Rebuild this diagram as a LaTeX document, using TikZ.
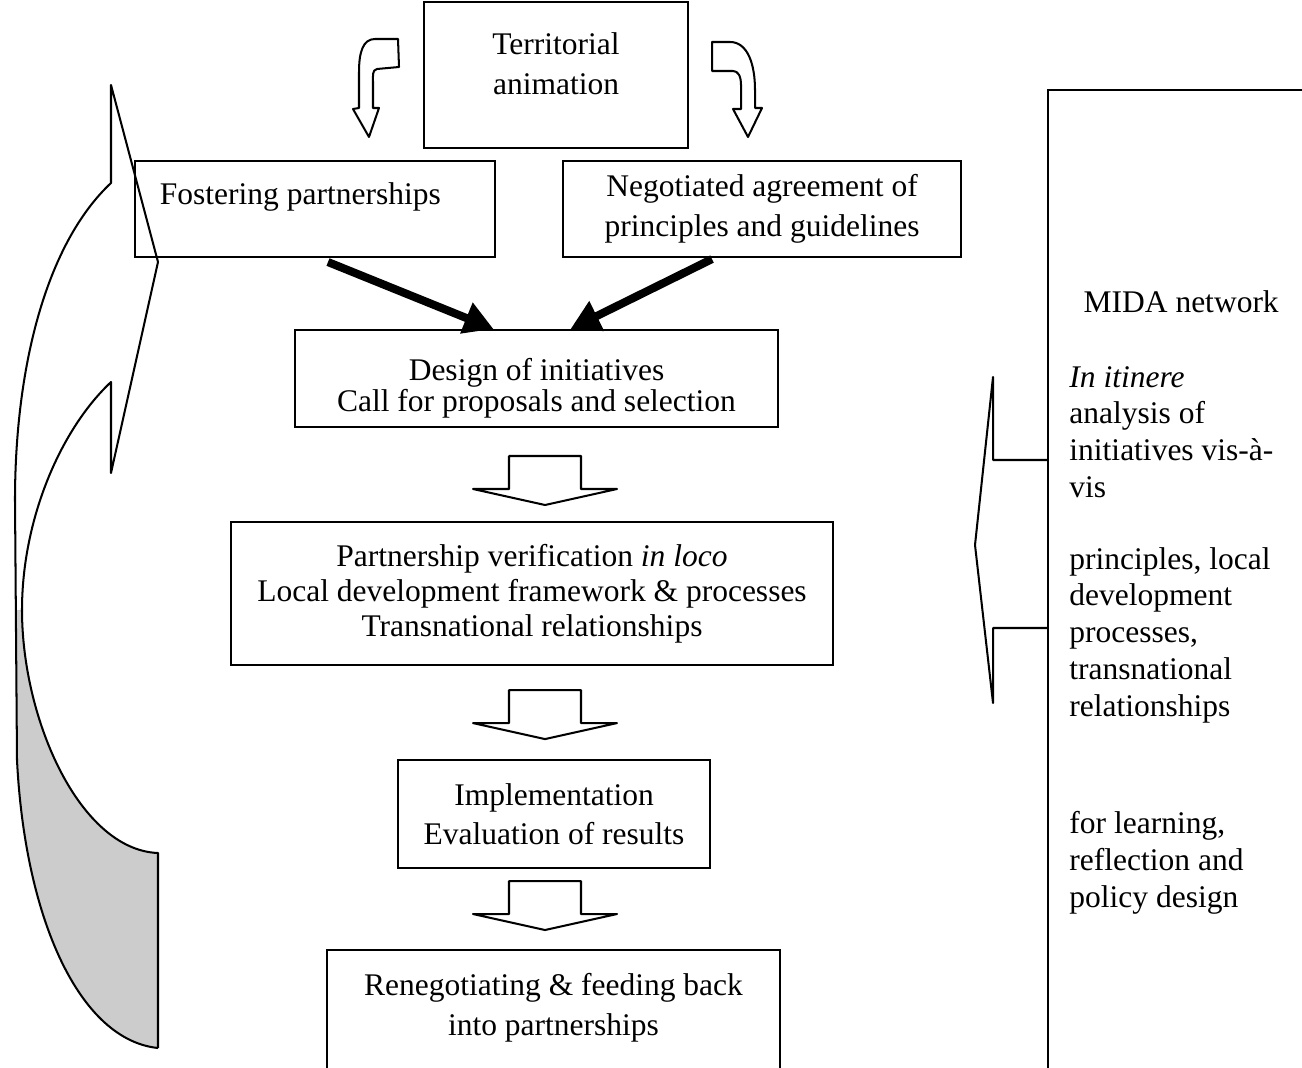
\documentclass[tikz,border=0pt]{standalone}
\usepackage{fontspec}
\setmainfont{Liberation Serif}
\usetikzlibrary{positioning, arrows.meta, calc}
\definecolor{mygray}{RGB}{204,204,204}

\begin{document}
\begin{tikzpicture}[x=0.4444pt, y=-0.4444pt,
  box/.style={draw, line width=0.9pt, align=center, inner sep=0pt, font=\fontsize{14}{17.5}\selectfont},
  outline/.style={line width=0.9pt, line join=round},
  fat/.style={line width=3.6pt, -{Triangle[length=13pt, width=14pt]}},
  hollowdown/.pic={\draw[outline, fill=white] (-36,0) -- (36,0) -- (36,33) -- (72,33) -- (0,49) -- (-72,33) -- (-36,33) -- cycle;}]
\useasboundingbox (0,0) rectangle (1302,1068);
\clip (0,0) rectangle (1302,1068);

% Flow boxes
\node[box, minimum width=117.3pt, minimum height=64.9pt, text depth=10pt] (anim) at (556,75) {Territorial\\animation};
\node[box, minimum width=160pt, minimum height=42.7pt, text depth=14pt] (foster) at (315,209) {Fostering partnerships\hspace*{13pt}};
\node[box, minimum width=176.9pt, minimum height=42.7pt] (nego) at (762,209) {Negotiated agreement of\\principles and guidelines};
\node[box, minimum width=214.7pt, minimum height=43.1pt, text height=32.5pt, font=\fontsize{14}{13.8}\selectfont] (design) at (536.5,378.5) {Design of initiatives\\Call for proposals and selection};
\node[box, minimum width=267.6pt, minimum height=63.6pt, font=\fontsize{14}{15.5}\selectfont] (verif) at (532,593.5) {Partnership verification \textit{in loco}\\Local development framework \& processes\\Transnational relationships};
\node[box, minimum width=138.7pt, minimum height=48pt] (impl) at (554,814) {Implementation\\Evaluation of results};
\node[box, minimum width=201.3pt, minimum height=62.2pt, text depth=14pt] (reneg) at (553.5,1020) {Renegotiating \& feeding back\\into partnerships};

% MIDA network box
\node[draw, line width=0.9pt, inner sep=0pt, minimum width=157pt, minimum height=494pt, anchor=north west] (midabox) at (1047,89) {};
\node[anchor=north west, align=left, inner sep=0pt, font=\fontsize{14}{16.3}\selectfont] (midatext) at (1069,290) {\hspace{6.3pt}MIDA network\\[17pt]
\textit{In itinere}\\
analysis of\\
initiatives vis-à-\\
vis\\[15.7pt]
principles, local\\
development\\
processes,\\
transnational\\
relationships\\[36pt]
for learning,\\
reflection and\\
policy design};

% bent arrows out of the animation box
\draw[outline] (359,108) -- (359,72) .. controls (359,52) and (363,39) .. (375,39) -- (398,39) -- (399,67) -- (377,69) .. controls (372,70) and (373,76) .. (373,82) -- (373,108) -- (379,108) -- (369,137) -- (353,109) -- cycle;
\draw[outline] (712,42) -- (730,42) .. controls (748,42) and (755,65) .. (755,90) -- (755,108) -- (762,108) -- (748,137) -- (733,109) -- (741,109) -- (741,85) .. controls (741,76) and (738,71) .. (733,71) -- (712,71) -- cycle;

% heavy arrows into design
\draw[fat] ($(foster.south)+(13,4)$) -- ($(design.north)+(-43,0)$);
\draw[fat] ($(nego.south)+(-50,1)$) -- ($(design.north)+(34,0)$);

% hollow down arrows
\pic at ($(design.south)+(8.5,28)$) {hollowdown};
\pic at ($(verif.south)+(13,24)$) {hollowdown};
\pic at ($(impl.south)+(-9,12)$) {hollowdown};

% feedback arrow on the left
\fill[mygray] (22,610) .. controls (22,720) and (80,850) .. (158,853) -- (158,1048) .. controls (80,1040) and (25,920) .. (17,760) -- (15,610) -- cycle;
\draw[outline] (158,1048) -- (158,853) .. controls (80,850) and (22,720) .. (22,610) .. controls (22,520) and (60,430) .. (111,382) -- (111,473) -- (158,262) -- (111,85) -- (111,183) .. controls (45,245) and (15,370) .. (15,500) -- (17,760) .. controls (25,920) and (80,1040) .. (158,1048);

% bracket arrow of the MIDA box
\draw[outline] (1047,460) -- (993,460) -- (993,377) -- (975,545) -- (993,703) -- (993,628) -- (1047,628);
\end{tikzpicture}
\end{document}
